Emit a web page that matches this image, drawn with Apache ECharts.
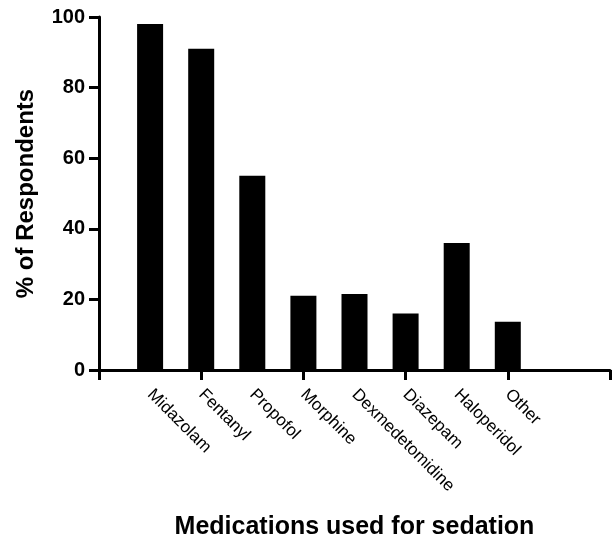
<!DOCTYPE html>
<html>
<head>
<meta charset="utf-8">
<script src="https://cdn.jsdelivr.net/npm/echarts@6/dist/echarts.min.js"></script>
<style>
  html, body { margin: 0; padding: 0; background: #fff; }
  #chart { width: 613px; height: 540px; }
</style>
</head>
<body>
<div id="chart"></div>
<script>
// medications (bars sit on every category point, blank slots pad the axis)
var drugs = ['Midazolam', 'Fentanyl', 'Propofol', 'Morphine', 'Dexmedetomidine', 'Diazepam', 'Haloperidol', 'Other']
var percent = [98, 91, 55, 21, 21.5, 16, 36, 13.7]
var yTicks = [0, 20, 40, 60, 80, 100]

var axisCats = [''].concat(drugs, ['', ''])
var barData = [null].concat(percent, [null, null])

var chart = echarts.init(document.getElementById('chart'))
var font = 'Liberation Sans, Arial, Helvetica, sans-serif'

chart.setOption({
    backgroundColor: '#fff',
    animation: false,
    grid: {
        left: 99,
        right: 3,
        top: 17,
        bottom: 170,
        containLabel: false,
        outerBoundsMode: 'none'
    },
    xAxis: {
        type: 'category',
        data: axisCats,
        boundaryGap: false,
        name: 'Medications used for sedation',
        nameLocation: 'middle',
        nameGap: 145,
        nameTextStyle: { fontFamily: font, fontWeight: 'bold', fontSize: 25, color: '#000' },
        axisLine: { lineStyle: { color: '#000', width: 3 } },
        axisTick: { show: true, interval: 1, length: 10, lineStyle: { color: '#000', width: 3 } },
        axisLabel: {
            interval: 0,
            rotate: -45,
            margin: 22,
            fontFamily: font,
            fontSize: 17,
            color: '#000'
        },
        splitLine: { show: false }
    },
    yAxis: {
        type: 'value',
        min: yTicks[0],
        max: yTicks[yTicks.length - 1],
        interval: 20,
        name: '% of Respondents',
        nameLocation: 'middle',
        nameGap: 61,
        nameTextStyle: { fontFamily: font, fontWeight: 'bold', fontSize: 24, color: '#000' },
        axisLine: { show: true, lineStyle: { color: '#000', width: 3 } },
        axisTick: { show: true, length: 10, lineStyle: { color: '#000', width: 3 } },
        axisLabel: { fontFamily: font, fontWeight: 'bold', fontSize: 20, color: '#000', margin: 14 },
        splitLine: { show: false }
    },
    series: [{
        type: 'bar',
        data: barData,
        barWidth: 26,
        itemStyle: { color: '#000' }
    }]
})
</script>
</body>
</html>
